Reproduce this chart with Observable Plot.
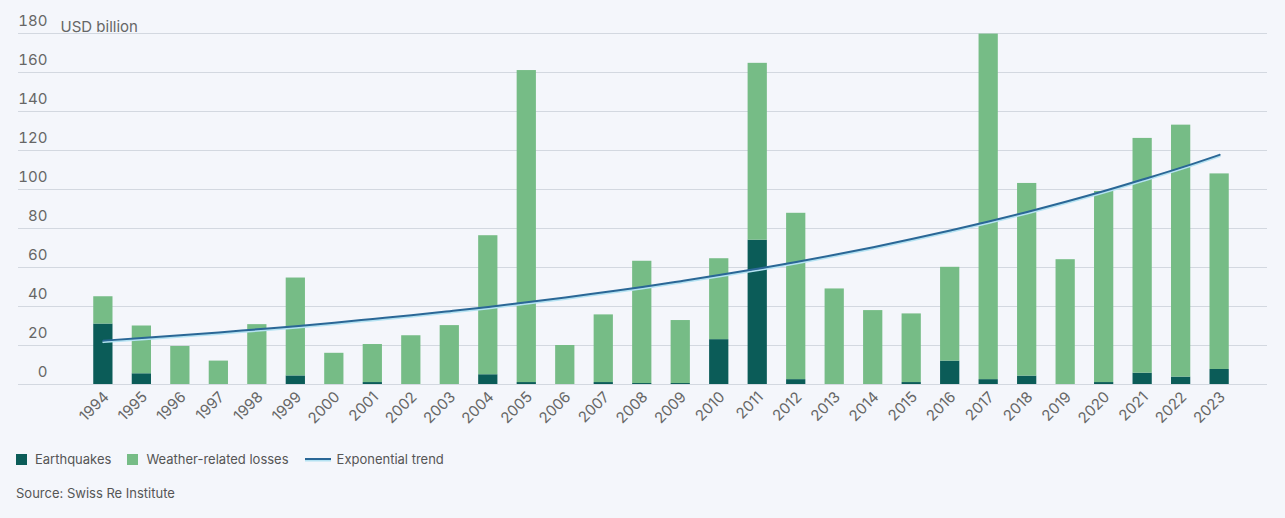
<!DOCTYPE html>
<html>
<head>
<meta charset="utf-8">
<script src="https://cdn.jsdelivr.net/npm/d3@7"></script>
<script src="https://cdn.jsdelivr.net/npm/@observablehq/plot@0.6"></script>
<style>
  html, body { margin: 0; padding: 0; background: #f4f6fb; }
  body { width: 1285px; height: 518px; position: relative; overflow: hidden; font-family: Inter, "Open Sans", sans-serif; }
  #chart { position: absolute; left: 0; top: 0; }
  .legend { position: absolute; left: 16px; top: 451px; font-size: 13px; color: #555; display: flex; align-items: center; }
  .legend .item { display: flex; align-items: center; margin-right: 16px; }
  .legend .sw { width: 11px; height: 11px; margin-right: 8px; }
  .legend .ln { width: 26px; height: 2px; margin-right: 6px; background: #2a6796; box-shadow: 0 1.5px 0 #b4e2f2; }
  .source { position: absolute; left: 16px; top: 485px; font-size: 13px; color: #555; }
</style>
</head>
<body>
<div id="chart"></div>
<div class="legend">
  <div class="item"><div class="sw" style="background:#0b5c58"></div>Earthquakes</div>
  <div class="item"><div class="sw" style="background:#76bc86"></div>Weather-related losses</div>
  <div class="item"><div class="ln"></div>Exponential trend</div>
</div>
<div class="source">Source: Swiss Re Institute</div>
<script>
const years = ["1994","1995","1996","1997","1998","1999","2000","2001","2002","2003","2004","2005","2006","2007","2008","2009","2010","2011","2012","2013","2014","2015","2016","2017","2018","2019","2020","2021","2022","2023"];
const earthquakes = [31, 5.5, 0, 0, 0, 4.4, 0, 1, 0, 0, 5, 1, 0, 1, 0.5, 0.5, 23, 74, 2.5, 0, 0, 1, 12, 2.5, 4.3, 0, 1, 5.8, 3.8, 7.7];
const weather = [14, 24.5, 19.5, 12, 30.7, 50.2, 16, 19.5, 25, 30.2, 71.3, 160, 20, 34.7, 62.7, 32.3, 41.5, 90.7, 85.3, 49, 37.9, 35.2, 48.1, 177.2, 98.8, 64, 98, 120.4, 129.2, 100.3];
const trend = [22.5, 23.8, 25.2, 26.7, 28.3, 29.9, 31.7, 33.6, 35.5, 37.6, 39.8, 42.2, 44.6, 47.3, 50.0, 53.0, 56.1, 59.4, 62.8, 66.5, 70.4, 74.6, 79.0, 83.6, 88.5, 93.7, 99.2, 105.1, 111.2, 117.8];
const seriesNames = ["Earthquakes", "Weather-related losses"];
const seriesColors = ["#0b5c58", "#76bc86"];
const yTicks = [0, 20, 40, 60, 80, 100, 120, 140, 160, 180];

const rows = [];
years.forEach((y, i) => {
  rows.push({year: y, series: seriesNames[0], value: earthquakes[i]});
  rows.push({year: y, series: seriesNames[1], value: weather[i]});
});
const trendRows = years.map((y, i) => ({year: y, value: trend[i]}));

const chart = Plot.plot({
  width: 1285,
  height: 440,
  marginLeft: 18,
  marginRight: 18,
  marginTop: 33,
  marginBottom: 56,
  style: {background: "transparent", fontFamily: "Inter, 'Open Sans', sans-serif", fontSize: "15px", color: "#666"},
  x: {domain: years, range: [74, 1248], padding: 0.5, round: false, label: null},
  y: {domain: [0, 180], label: null},
  color: {domain: seriesNames, range: seriesColors},
  marks: [
    Plot.ruleY(yTicks, {stroke: "#d3d8e0", strokeWidth: 1}),
    Plot.axisY(yTicks, {anchor: "left", tickSize: 0, tickPadding: 0, dx: 29, dy: -12, textAnchor: "end", fill: "#666", fontSize: 15, label: null}),
    Plot.text(["USD billion"], {frameAnchor: "top-left", dx: 42, dy: -12, textAnchor: "start", fill: "#666", fontSize: 15}),
    Plot.barY(rows, Plot.stackY({x: "year", y: "value", fill: "series", order: seriesNames})),
    Plot.line(trendRows, {x: "year", y: "value", stroke: "#b4e2f2", strokeWidth: 2, dy: 1.5, curve: "monotone-x"}),
    Plot.line(trendRows, {x: "year", y: "value", stroke: "#2a6796", strokeWidth: 2, curve: "monotone-x"}),
    Plot.axisX({tickSize: 0, tickPadding: 10, tickRotate: -45, dx: 3, fill: "#666", fontSize: 15, label: null})
  ]
});
document.getElementById("chart").appendChild(chart);
</script>
</body>
</html>
